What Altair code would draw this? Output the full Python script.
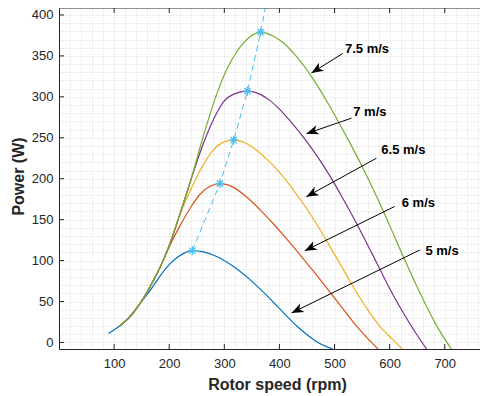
import math
import pandas as pd
import altair as alt

# ---------------- data ----------------
speeds = ["5 m/s", "6 m/s", "6.5 m/s", "7 m/s", "7.5 m/s"]
colors = ["#0072BD", "#D95319", "#EDB120", "#7E2F8E", "#77AC30"]

rpm_5 = [90, 110, 130, 150, 170, 190, 200, 215, 230, 242, 260, 286, 316, 346, 370, 395, 415, 435, 455, 475, 497]
pow_5 = [11, 20, 32, 50, 68, 87, 95, 104, 110, 112, 111, 105, 93, 77, 62, 45, 31, 18, 7, -2, -8]

rpm_6 = [110, 125, 140, 155, 170, 185, 200, 220, 240, 256, 275, 292, 315, 340, 365, 389, 410, 430, 446, 470, 497, 520, 540, 560, 579]
pow_6 = [20, 29, 41, 56, 74, 94, 117, 143, 166, 181, 191, 194, 190, 178, 162, 145, 129, 113, 100, 80, 57, 37, 20, 5, -8]

rpm_65 = [110, 125, 140, 155, 170, 185, 200, 220, 240, 260, 280, 300, 317, 340, 358, 380, 401, 420, 446, 470, 485, 510, 534, 560, 582, 605, 623]
pow_65 = [20, 29, 41, 56, 74, 94, 118, 157, 188, 215, 235, 245, 247, 243, 235, 222, 207, 191, 167, 142, 125, 96, 68, 40, 20, 4, -8]

rpm_7 = [110, 125, 140, 155, 170, 185, 200, 220, 240, 262, 286, 300, 316, 342, 365, 382, 400, 419, 449, 470, 491, 510, 534, 567, 582, 600, 625, 645, 667]
pow_7 = [20, 29, 41, 56, 74, 94, 118, 158, 200, 243, 280, 295, 303, 307, 303, 296, 285, 271, 246, 226, 204, 182, 153, 110, 90, 66, 36, 14, -8]

rpm_75 = [110, 125, 140, 155, 170, 185, 200, 220, 240, 258, 270, 286, 300, 316, 330, 346, 366, 389, 407, 430, 461, 490, 510, 530, 550, 576, 600, 630, 667, 690, 712]
pow_75 = [20, 29, 41, 56, 74, 94, 119, 158, 200, 243, 270, 303, 327, 348, 362, 373, 379, 374, 366, 350, 322, 290, 266, 241, 215, 179, 143, 97, 44, 15, -8]

# maximum power points (stars) and the dashed MPP line
mpp_rpm = [242, 292, 317, 342, 366]
mpp_pow = [112, 194, 247, 307, 379]
mpp_line_rpm = [242, 292, 317, 342, 366, 377]
mpp_line_pow = [112, 194, 247, 307, 379, 418]

# annotations: label position, arrow start, arrow tip
ann_text = ["7.5 m/s", "7 m/s", "6.5 m/s", "6 m/s", "5 m/s"]
ann_tx = [519, 534, 585, 622, 665]
ann_ty = [358, 281, 235, 170, 112]
arr_x0 = [515, 531, 576, 609, 655]
arr_y0 = [353, 274, 225, 166, 113]
arr_x1 = [458, 449, 449, 446, 422]
arr_y1 = [329, 255, 178, 112, 36]

x_ticks = [100, 200, 300, 400, 500, 600, 700]
y_ticks = [0, 50, 100, 150, 200, 250, 300, 350, 400]

# ---------------- layout ----------------
W, H = 421, 341
XMIN, XMAX = 0, 764
YMIN, YMAX = -8, 408.5
kx = W / (XMAX - XMIN)
ky = H / (YMAX - YMIN)

rows = []
for s, xs, ps in zip(speeds, [rpm_5, rpm_6, rpm_65, rpm_7, rpm_75],
                     [pow_5, pow_6, pow_65, pow_7, pow_75]):
    for a, b in zip(xs, ps):
        rows.append({"speed": s, "rpm": a, "P": b})
curves = pd.DataFrame(rows)

stars = pd.DataFrame({"rpm": mpp_rpm, "P": mpp_pow})
mppline = pd.DataFrame({"rpm": mpp_line_rpm, "P": mpp_line_pow})

angles = []
for x0, y0, x1, y1 in zip(arr_x0, arr_y0, arr_x1, arr_y1):
    dx = (x1 - x0) * kx
    dy = -(y1 - y0) * ky
    angles.append(math.degrees(math.atan2(dx, -dy)) % 360)

arrows = pd.DataFrame({"rpm": arr_x0, "P": arr_y0, "rpm2": arr_x1, "P2": arr_y1})
heads = pd.DataFrame({"rpm": arr_x1, "P": arr_y1, "ang": angles})
labels = pd.DataFrame({"rpm": ann_tx, "P": ann_ty, "txt": ann_text})
xt = pd.DataFrame({"rpm": x_ticks})
yt = pd.DataFrame({"P": y_ticks})
one = pd.DataFrame({"a": [0]})

FONT = "Liberation Sans"
AX = "#262626"
GRID = "#d6d6d6"

x_axis = alt.Axis(
    title="Rotor speed (rpm)", values=list(range(0, 761, 20)),
    labelExpr="datum.value % 100 == 0 && datum.value > 0 ? datum.label : ''",
    grid=True, gridDash=[1, 2], gridColor=GRID, gridWidth=1,
    ticks=False, labelPadding=8, labelOverlap=False, labelFlush=False,
    domainColor=AX, labelColor=AX, labelFont=FONT, labelFontSize=13,
    titleFont=FONT, titleFontSize=16, titleFontWeight="bold", titleColor=AX,
    titleX=218, titleY=35, titleBaseline="middle", titleAlign="center",
)
y_axis = alt.Axis(
    title="Power (W)", values=list(range(0, 401, 10)),
    labelExpr="datum.value % 50 == 0 ? datum.label : ''",
    grid=True, gridDash=[1, 2], gridColor=GRID, gridWidth=1,
    ticks=False, labelPadding=6, labelOverlap=False, labelFlush=False,
    domainColor=AX, labelColor=AX, labelFont=FONT, labelFontSize=13,
    titleFont=FONT, titleFontSize=16, titleFontWeight="bold", titleColor=AX,
    titleX=-41, titleY=168, titleAngle=270, titleBaseline="middle", titleAlign="center",
)

xs_scale = alt.Scale(domain=[XMIN, XMAX], nice=False, zero=False)
ys_scale = alt.Scale(domain=[YMIN, YMAX], nice=False, zero=False)
X = alt.X("rpm:Q", scale=xs_scale, axis=x_axis)
Y = alt.Y("P:Q", scale=ys_scale, axis=y_axis)

lines = alt.Chart(curves).mark_line(interpolate="monotone", clip=True, strokeWidth=1.2).encode(
    x=X, y=Y,
    color=alt.Color("speed:N", scale=alt.Scale(domain=speeds, range=colors), legend=None),
    detail="speed:N",
)

dashed = alt.Chart(mppline).mark_line(clip=True, strokeDash=[6, 4], color="#4DBEEE", strokeWidth=1).encode(x=X, y=Y)

ASTER = "M0,-1L0,1M-1,0L1,0M-0.7,-0.7L0.7,0.7M-0.7,0.7L0.7,-0.7"
star_marks = alt.Chart(stars).mark_point(shape=ASTER, filled=False, color="#4DBEEE",
                                         strokeWidth=1.3, size=81, opacity=1).encode(x=X, y=Y)

arrow_lines = alt.Chart(arrows).mark_rule(color="black", strokeWidth=1).encode(
    x=X, y=Y, x2="rpm2:Q", y2="P2:Q")

HEAD = "M0,0L0.8,2L0,1.45L-0.8,2Z"
arrow_heads = alt.Chart(heads).mark_point(shape=HEAD, filled=True, color="black",
                                          size=144, opacity=1, strokeWidth=0).encode(
    x=X, y=Y, angle=alt.Angle("ang:Q", scale=None))

texts = alt.Chart(labels).mark_text(align="left", baseline="middle", font=FONT,
                                    fontSize=13, fontWeight="bold", color="black").encode(
    x=X, y=Y, text="txt:N")

tick_b = alt.Chart(xt).mark_rule(color=AX, strokeWidth=1).encode(
    x=X, y=alt.value(H), y2=alt.value(H - 5))
tick_t = alt.Chart(xt).mark_rule(color=AX, strokeWidth=1).encode(
    x=X, y=alt.value(0), y2=alt.value(5))
tick_l = alt.Chart(yt).mark_rule(color=AX, strokeWidth=1).encode(
    y=Y, x=alt.value(0), x2=alt.value(5))
top_border = alt.Chart(one).mark_rule(color=AX, strokeWidth=1).encode(
    x=alt.value(0), x2=alt.value(W), y=alt.value(0))

chart = alt.layer(
    lines, dashed, star_marks, arrow_lines, arrow_heads, texts,
    tick_b, tick_t, tick_l, top_border,
).properties(
    width=W, height=H,
    autosize=alt.AutoSizeParams(type="none"),
    padding={"left": 51, "top": 0, "right": 0, "bottom": 47},
    background="white",
).configure_view(stroke=None)

chart.save("out.html", embed_options={"renderer": "svg", "actions": False})
